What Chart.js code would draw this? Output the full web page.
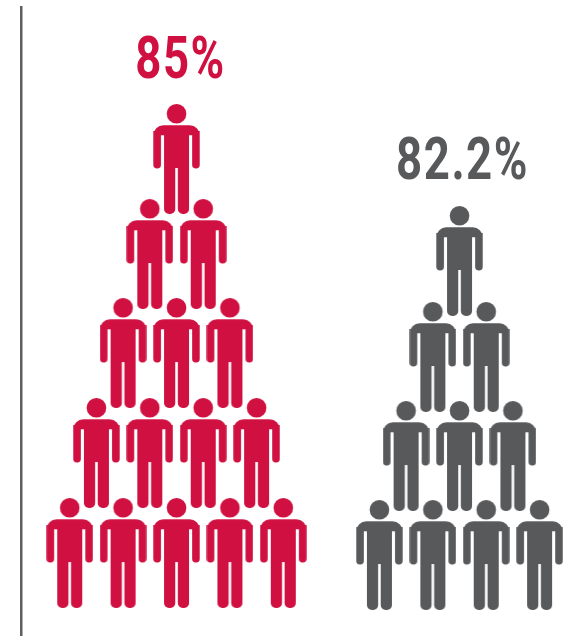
<!DOCTYPE html>
<html>
<head>
<meta charset="utf-8">
<style>
  html, body { margin: 0; padding: 0; background: #fff; }
  #box { width: 573px; height: 636px; }
</style>
</head>
<body>
<div id="box"><canvas id="pictoChart"></canvas></div>
<script src="https://cdn.jsdelivr.net/npm/chart.js@4"></script>
<script>
const categories = ['85%', '82.2%'];
const redRows = [5, 4, 3, 2, 1];
const greyRows = [4, 3, 2, 1];
const redLevels = [0, 1.01, 2.02, 3.02, 3.98];
const greyLevels = [-0.02, 0.98, 1.98, 2.95];
const groupCentres = [0, 5.3];

const RED = '#cf1040';
const GREY = '#58595b';

// little man used as the point style
function makePerson(color) {
  const c = document.createElement('canvas');
  c.width = 47;
  c.height = 110;
  const g = c.getContext('2d');
  g.fillStyle = color;
  g.beginPath();
  g.arc(23.5, 9.8, 9.8, 0, Math.PI * 2);
  g.fill();
  g.beginPath();
  g.roundRect(0.3, 21.3, 46.4, 10, [10, 10, 0, 0]);
  g.roundRect(0.3, 27, 7.6, 37.5, [0, 0, 3.8, 3.8]);
  g.roundRect(39.1, 27, 7.6, 37.5, [0, 0, 3.8, 3.8]);
  g.rect(11, 25, 25, 39);
  g.roundRect(11, 60, 11.2, 50, [0, 0, 5, 5]);
  g.roundRect(24.8, 60, 11.2, 50, [0, 0, 5, 5]);
  g.fill();
  return c;
}

function pyramid(rows, levels, centre) {
  const pts = [];
  rows.forEach((n, r) => {
    for (let i = 0; i < n; i++) {
      pts.push({ x: centre + i - (n - 1) / 2, y: levels[r] });
    }
  });
  return pts;
}

// percent labels above each pyramid, squeezed to look condensed
function squeezedText(ctx, text, x, y, color) {
  ctx.save();
  ctx.translate(x, y);
  ctx.scale(0.76, 1);
  ctx.fillStyle = color;
  ctx.fillText(text, 0, 0);
  ctx.restore();
}

const labelPlugin = {
  id: 'pctLabels',
  afterDatasetsDraw(chart) {
    const ctx = chart.ctx;
    const xs = chart.scales.x;
    const ys = chart.scales.y;
    ctx.save();
    ctx.font = 'bold 60px Roboto';
    ctx.textAlign = 'center';
    ctx.textBaseline = 'alphabetic';
    ctx.letterSpacing = '2px';
    squeezedText(ctx, categories[0], xs.getPixelForValue(groupCentres[0]) + 4, ys.getPixelForValue(redLevels[4]) - 81, RED);
    squeezedText(ctx, categories[1], xs.getPixelForValue(groupCentres[1]) + 3, ys.getPixelForValue(greyLevels[3]) - 82, GREY);
    ctx.restore();
  }
};

new Chart(document.getElementById('pictoChart'), {
  type: 'scatter',
  data: {
    datasets: [
      {
        label: categories[0],
        data: pyramid(redRows, redLevels, groupCentres[0]),
        pointStyle: makePerson(RED)
      },
      {
        label: categories[1],
        data: pyramid(greyRows, greyLevels, groupCentres[1]),
        pointStyle: makePerson(GREY)
      }
    ]
  },
  options: {
    responsive: true,
    maintainAspectRatio: false,
    animation: false,
    layout: { autoPadding: false, padding: { top: 7, left: 21 } },
    plugins: { legend: { display: false }, tooltip: { enabled: false } },
    scales: {
      x: { display: false, min: -2.912, max: 7.425 },
      y: {
        min: -0.838,
        max: 5.515,
        border: { display: true, color: '#5f5f5f', width: 2.5 },
        grid: { drawOnChartArea: false, drawTicks: false },
        ticks: { display: false }
      }
    }
  },
  plugins: [labelPlugin]
});
</script>
</body>
</html>
